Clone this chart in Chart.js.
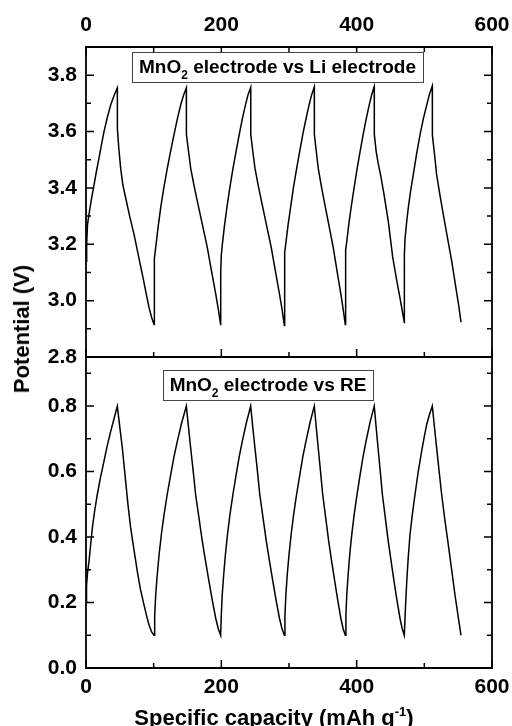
<!DOCTYPE html>
<html><head><meta charset="utf-8">
<script src="https://cdn.jsdelivr.net/npm/chart.js@4/dist/chart.umd.min.js"></script>
<style>
html,body{margin:0;padding:0;background:#fff;}
#wrap{position:relative;width:512px;height:726px;overflow:hidden;background:#fff;}
#cTop{position:absolute;left:0;top:0;}
#cBot{position:absolute;left:0;top:357px;}
#ylab{position:absolute;left:22px;top:329px;transform:translate(-50%,-50%) rotate(-90deg);white-space:nowrap;line-height:1;font:bold 22px 'Liberation Sans',Arial,sans-serif;color:#000;}
</style></head><body>
<div id="wrap">
<canvas id="cTop" width="512" height="372"></canvas>
<canvas id="cBot" width="512" height="369"></canvas>
<div id="ylab">Potential (V)</div>
</div>
<script>
// ---------- DATA ----------
// Panel 1: MnO2 electrode vs Li electrode
const liCapacity = [
  0,1,2.2,4.4,8,11.8,15.5,19.2,23,26.6,31.5,36.5,41.5,46.3,
  46.4,48.5,51.2,54.5,58.6,64.5,71,77,83.2,88.5,93.1,97,100.5,
  100.6,101.5,103,106.5,110.4,115,120.2,125,130,135,139.9,144,148.3,
  148.4,151.5,154.7,159.5,164.5,172,179.3,185.5,191.7,195.5,199,
  199.1,199.9,201.3,204.6,208.2,212.5,217.3,221.8,226.4,231,235.6,239.4,243.4,
  243.5,246.5,249.7,254.4,259.3,266.6,273.8,279.9,285.9,289.7,293.1,
  293.2,294,295.4,298.7,302.3,306.5,311.4,315.8,320.4,325.1,329.6,333.4,337.4,
  337.5,340.3,343.2,347.5,352,358.8,365.4,371,376.6,380,383.2,
  383.3,384.1,385.4,388.6,392.1,396.2,400.8,405.1,409.6,414.1,418.5,422.1,426,
  426.1,428.8,431.6,435.8,440.2,446.8,453.2,458.6,464,467.3,470.4,
  470.5,471.5,473.5,476.3,479.8,483.7,488.5,493.6,498.5,503.5,507.5,511.8,
  511.9,515,518.2,523,528,534,540.4,547,551,554.2
];
const liPotential = [
  3.14,3.2,3.27,3.306,3.36,3.41,3.46,3.506,3.555,3.6,3.65,3.694,3.728,3.755,
  3.61,3.54,3.47,3.41,3.365,3.3,3.235,3.165,3.094,3.03,2.976,2.94,2.915,
  3.09,3.15,3.188,3.26,3.33,3.4,3.47,3.53,3.588,3.645,3.694,3.728,3.755,
  3.59,3.53,3.47,3.41,3.353,3.27,3.188,3.105,3.024,2.97,2.915,
  3.1,3.16,3.195,3.265,3.33,3.4,3.47,3.53,3.588,3.645,3.694,3.73,3.757,
  3.59,3.53,3.47,3.41,3.353,3.27,3.188,3.105,3.024,2.97,2.912,
  3.12,3.17,3.205,3.27,3.33,3.4,3.47,3.53,3.59,3.645,3.694,3.73,3.758,
  3.59,3.53,3.47,3.41,3.353,3.27,3.188,3.105,3.024,2.97,2.915,
  3.14,3.18,3.21,3.275,3.335,3.4,3.47,3.53,3.59,3.645,3.694,3.73,3.76,
  3.59,3.53,3.49,3.44,3.38,3.28,3.155,3.08,3.01,2.965,2.922,
  3.165,3.22,3.27,3.33,3.39,3.447,3.52,3.588,3.645,3.694,3.732,3.762,
  3.588,3.52,3.447,3.375,3.306,3.225,3.141,3.04,2.98,2.924
];
// Panel 2: MnO2 electrode vs RE
const reCapacity = [
  0,0.8,2.2,4.4,6.8,9.4,12.8,16.7,21.5,26.6,31.5,36.5,41.5,46.3,
  50,53.7,58.6,62,66,71,75.8,80.5,85.7,89.5,93.1,97,100.5,
  101.5,103,105.3,108,111.5,115.3,120,125.2,130,135,141.5,148.3,
  151.5,154.7,158.5,162,167,171.9,176.8,181.8,186.8,191.7,195.5,199,
  199.9,201.3,203.5,206,209.2,212.7,217.1,221.9,226.4,231,237.1,243.4,
  246.5,249.7,253.4,256.8,261.7,266.5,271.3,276.2,281.1,285.9,289.7,293.1,
  294,295.4,297.5,300.1,303.3,306.8,311.2,316,320.4,325.1,331.1,337.4,
  340.3,343.2,346.6,349.8,354.3,358.7,363.1,367.7,372.2,376.6,380,383.2,
  384.1,385.4,387.5,389.9,393,396.4,400.7,405.3,409.6,414.1,419.9,426,
  428.8,431.6,434.9,438,442.4,446.7,451,455.3,459.7,464,467.3,470.4,
  472,474,476.3,478.8,482.3,486.2,491,496,499.8,503.5,507.7,511.8,
  515,518.2,521.9,525.6,530.5,535.4,540.4,545.3,549.8,554.2
];
const rePotential = [
  0.2,0.25,0.29,0.325,0.375,0.428,0.48,0.53,0.583,0.632,0.68,0.723,0.762,0.8,
  0.735,0.672,0.57,0.5,0.428,0.36,0.295,0.24,0.193,0.16,0.132,0.11,0.1,
  0.16,0.223,0.285,0.346,0.41,0.468,0.53,0.591,0.645,0.693,0.75,0.8,
  0.735,0.672,0.6,0.53,0.458,0.387,0.325,0.264,0.205,0.152,0.12,0.1,
  0.16,0.223,0.285,0.346,0.41,0.468,0.53,0.591,0.645,0.693,0.75,0.8,
  0.735,0.672,0.6,0.53,0.458,0.387,0.325,0.264,0.205,0.152,0.12,0.1,
  0.16,0.225,0.287,0.348,0.41,0.468,0.53,0.591,0.645,0.693,0.75,0.8,
  0.735,0.672,0.6,0.53,0.458,0.387,0.325,0.264,0.205,0.152,0.12,0.1,
  0.16,0.225,0.288,0.35,0.412,0.47,0.532,0.593,0.647,0.695,0.752,0.8,
  0.735,0.672,0.6,0.53,0.458,0.387,0.325,0.264,0.205,0.152,0.12,0.1,
  0.18,0.264,0.34,0.407,0.47,0.53,0.6,0.662,0.705,0.744,0.775,0.8,
  0.735,0.672,0.6,0.53,0.45,0.377,0.3,0.223,0.16,0.1
];
// Tick values
const xMajorTicks = [0,200,400,600];
const xMinorTicks = [100,300,500];
const liMajorTicks = [2.8,3.0,3.2,3.4,3.6,3.8];
const liMinorTicks = [2.9,3.1,3.3,3.5,3.7];
const reMajorTicks = [0,0.2,0.4,0.6,0.8];
const reMinorTicks = [0.1,0.3,0.5,0.7,0.9];

// ---------- helpers ----------
const FAM = "'Liberation Sans', Arial, sans-serif";
function pts(xs, ys){ return xs.map((x,i)=>({x:x, y:ys[i]})); }

function richWidth(ctx, parts){
  let w=0; parts.forEach(p=>{ctx.font='bold '+p.size+'px '+FAM; w+=ctx.measureText(p.t).width;}); return w;
}
function drawRich(ctx, cx, baseline, parts){
  const w = richWidth(ctx, parts);
  let x = cx - w/2;
  ctx.textAlign='left'; ctx.textBaseline='alphabetic'; ctx.fillStyle='#000';
  parts.forEach(p=>{
    ctx.font='bold '+p.size+'px '+FAM;
    ctx.fillText(p.t, x, baseline + (p.dy||0));
    x += ctx.measureText(p.t).width;
  });
}

const panelPlugin = {
  id:'panel',
  afterDatasetsDraw(chart, args, o){
    const ctx = chart.ctx, a = chart.chartArea;
    const xs = chart.scales[o.xId], ys = chart.scales.y;
    ctx.save();
    ctx.strokeStyle='#000'; ctx.lineCap='butt';
    ctx.lineWidth=1.5;
    ctx.beginPath();
    const xt = (v,len)=>{
      const px = xs.getPixelForValue(v);
      if (o.topTicks){ ctx.moveTo(px,a.top); ctx.lineTo(px,a.top+len); }
      if (o.bottomTicks){ ctx.moveTo(px,a.bottom); ctx.lineTo(px,a.bottom-len); }
    };
    xMajorTicks.forEach(v=>xt(v,8));
    xMinorTicks.forEach(v=>xt(v,5));
    const yt = (v,len)=>{
      if (v < ys.min || v > ys.max) return;
      const py = ys.getPixelForValue(v);
      ctx.moveTo(a.left,py); ctx.lineTo(a.left+len,py);
      ctx.moveTo(a.right,py); ctx.lineTo(a.right-len,py);
    };
    o.yMajor.forEach(v=>yt(v,8));
    o.yMinor.forEach(v=>yt(v,5));
    ctx.stroke();
    ctx.lineWidth=1.8; ctx.lineCap='square';
    ctx.beginPath();
    if (o.frameTop){ ctx.moveTo(a.left,a.top); ctx.lineTo(a.right,a.top); }
    ctx.moveTo(a.left,a.top); ctx.lineTo(a.left,a.bottom);
    ctx.moveTo(a.right,a.top); ctx.lineTo(a.right,a.bottom);
    ctx.moveTo(a.left,a.bottom); ctx.lineTo(a.right,a.bottom);
    ctx.stroke();
    const b = o.box;
    ctx.fillStyle='#fff';
    ctx.fillRect(b.x1,b.y1,b.x2-b.x1,b.y2-b.y1);
    ctx.strokeStyle='#444'; ctx.lineWidth=1; ctx.lineCap='butt';
    ctx.strokeRect(b.x1+0.5,b.y1+0.5,b.x2-b.x1,b.y2-b.y1);
    drawRich(ctx,(b.x1+b.x2)/2,b.base,b.parts);
    if (o.xTitle){ drawRich(ctx,o.xTitle.cx,o.xTitle.base,o.xTitle.parts); }
    ctx.restore();
  }
};

const tickFont = {family:FAM, size:21, weight:'bold'};
const fitX = h => s => { s.height=h; s.paddingLeft=0; s.paddingRight=0; s.paddingTop=0; s.paddingBottom=0; };
const fitY = w => s => { s.width=w; s.paddingTop=0; s.paddingBottom=0; s.paddingLeft=0; s.paddingRight=0; };

// ---------- top chart ----------
new Chart(document.getElementById('cTop'), {
  type:'scatter',
  data:{datasets:[{data:pts(liCapacity, liPotential), showLine:true, borderColor:'#000', borderWidth:1.5,
    pointRadius:0, tension:0, fill:false, xAxisID:'xt', yAxisID:'y'}]},
  options:{
    responsive:false, animation:false, events:[],
    layout:{padding:{top:0,right:20,bottom:15,left:0}, autoPadding:false},
    plugins:{legend:{display:false}, tooltip:{enabled:false},
      panel:{xId:'xt', topTicks:true, bottomTicks:true, frameTop:true,
        yMajor:liMajorTicks, yMinor:liMinorTicks,
        box:{x1:132,y1:52,x2:423,y2:82,base:73,
          parts:[{t:'MnO',size:19},{t:'2',size:12,dy:6},{t:' electrode vs Li electrode',size:19}]}}},
    scales:{
      xt:{type:'linear', axis:'x', position:'top', min:0, max:600,
        afterBuildTicks:s=>{s.ticks = xMajorTicks.map(v=>({value:v}));},
        afterFit:fitX(47),
        grid:{display:false, drawTicks:false}, border:{display:false},
        ticks:{font:tickFont, color:'#000', padding:9, maxRotation:0, autoSkip:false, callback:v=>String(v)}},
      y:{type:'linear', position:'left', min:2.8, max:3.9,
        afterBuildTicks:s=>{s.ticks = liMajorTicks.map(v=>({value:v}));},
        afterFit:fitY(86),
        grid:{display:false, drawTicks:false}, border:{display:false},
        ticks:{font:tickFont, color:'#000', padding:9, autoSkip:false, callback:v=>Number(v).toFixed(1)}}
    }
  },
  plugins:[panelPlugin]
});

// ---------- bottom chart ----------
new Chart(document.getElementById('cBot'), {
  type:'scatter',
  data:{datasets:[{data:pts(reCapacity, rePotential), showLine:true, borderColor:'#000', borderWidth:1.5,
    pointRadius:0, tension:0, fill:false, xAxisID:'x', yAxisID:'y'}]},
  options:{
    responsive:false, animation:false, events:[],
    layout:{padding:{top:0,right:20,bottom:0,left:0}, autoPadding:false},
    plugins:{legend:{display:false}, tooltip:{enabled:false},
      panel:{xId:'x', topTicks:false, bottomTicks:true, frameTop:false,
        yMajor:reMajorTicks, yMinor:reMinorTicks,
        box:{x1:163,y1:13,x2:373,y2:43,base:34,
          parts:[{t:'MnO',size:19},{t:'2',size:12,dy:6},{t:' electrode vs RE',size:19}]},
        xTitle:{cx:274, base:368,
          parts:[{t:'Specific capacity (mAh g',size:22},{t:'-1',size:13,dy:-9},{t:')',size:22}]}}},
    scales:{
      x:{type:'linear', position:'bottom', min:0, max:600,
        afterBuildTicks:s=>{s.ticks = xMajorTicks.map(v=>({value:v}));},
        afterFit:fitX(58),
        grid:{display:false, drawTicks:false}, border:{display:false},
        ticks:{font:tickFont, color:'#000', padding:7, maxRotation:0, autoSkip:false, callback:v=>String(v)}},
      y:{type:'linear', position:'left', min:0, max:0.95,
        afterBuildTicks:s=>{s.ticks = reMajorTicks.map(v=>({value:v}));},
        afterFit:fitY(86),
        grid:{display:false, drawTicks:false}, border:{display:false},
        ticks:{font:tickFont, color:'#000', padding:9, autoSkip:false, callback:v=>Number(v).toFixed(1)}}
    }
  },
  plugins:[panelPlugin]
});
</script>
</body></html>
